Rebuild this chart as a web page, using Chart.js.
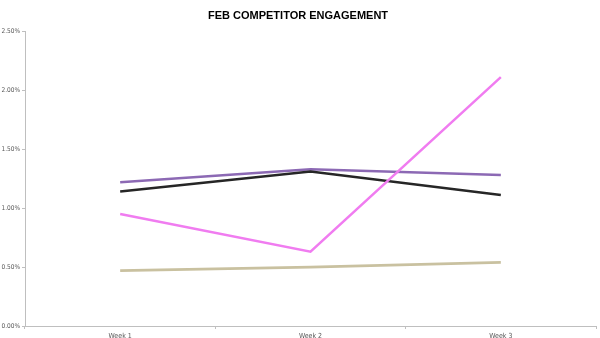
<!DOCTYPE html>
<html>
<head>
<meta charset="utf-8">
<script src="https://cdn.jsdelivr.net/npm/chart.js@4.4.1/dist/chart.umd.min.js"></script>
<style>
  body { margin: 0; background: #fff; }
  #wrap { width: 600px; height: 338px; }
</style>
</head>
<body>
<div id="wrap"><canvas id="chart" width="600" height="338"></canvas></div>
<script>
// categories and values (percent)
var weeks = ['Week 1', 'Week 2', 'Week 3'];
var purpleVals = [1.22, 1.33, 1.28];
var blackVals = [1.14, 1.31, 1.11];
var pinkVals = [0.95, 0.63, 2.11];
var tanVals = [0.47, 0.50, 0.54];
var yTicks = [0, 0.5, 1.0, 1.5, 2.0, 2.5];

var axisGrey = '#bfbfbf';
var labelGrey = '#595959';
var smallFont = "'Liberation Sans Narrow', 'DejaVu Sans Condensed', 'Liberation Sans'";

function line(name, vals, color, w) {
  return {
    label: name,
    data: vals,
    borderColor: color,
    backgroundColor: color,
    borderWidth: w,
    pointRadius: 0,
    tension: 0,
    fill: false
  };
}

var ctx = document.getElementById('chart').getContext('2d');
var chart = new Chart(ctx, {
  type: 'line',
  data: {
    labels: weeks,
    datasets: [
      line('Tan', tanVals, '#c9c1a0', 2.75),
      line('Pink', pinkVals, '#f07cf0', 2.5),
      line('Black', blackVals, '#262626', 2.5),
      line('Purple', purpleVals, '#8c69b4', 2.5)
    ]
  },
  options: {
    responsive: false,
    animation: false,
    layout: { padding: { left: 0, right: 4, top: 0, bottom: 0 } },
    plugins: {
      legend: { display: false },
      tooltip: { enabled: false },
      title: {
        display: true,
        text: 'FEB COMPETITOR ENGAGEMENT',
        color: '#000',
        font: { family: 'Liberation Sans', size: 11, weight: 'bold' },
        padding: { top: 9, bottom: 9 }
      }
    },
    scales: {
      x: {
        offset: true,
        grid: { display: true, drawOnChartArea: false, drawTicks: true, tickLength: 3, color: axisGrey, offset: true },
        border: { display: true, color: axisGrey, width: 1 },
        ticks: { color: labelGrey, font: { family: smallFont, size: 7 }, padding: 3, maxRotation: 0 },
        afterFit: function (s) { s.height = 12; }
      },
      y: {
        min: 0,
        max: 2.5,
        afterBuildTicks: function (s) { s.ticks = yTicks.map(function (v) { return { value: v }; }); },
        grid: { display: true, drawOnChartArea: false, drawTicks: true, tickLength: 3, color: axisGrey },
        border: { display: true, color: axisGrey, width: 1 },
        ticks: {
          color: labelGrey,
          font: { family: smallFont, size: 6.5 },
          padding: 2,
          callback: function (v) { return v.toFixed(2) + '%'; }
        },
        afterFit: function (s) { s.width = 25; }
      }
    }
  }
});
</script>
</body>
</html>
